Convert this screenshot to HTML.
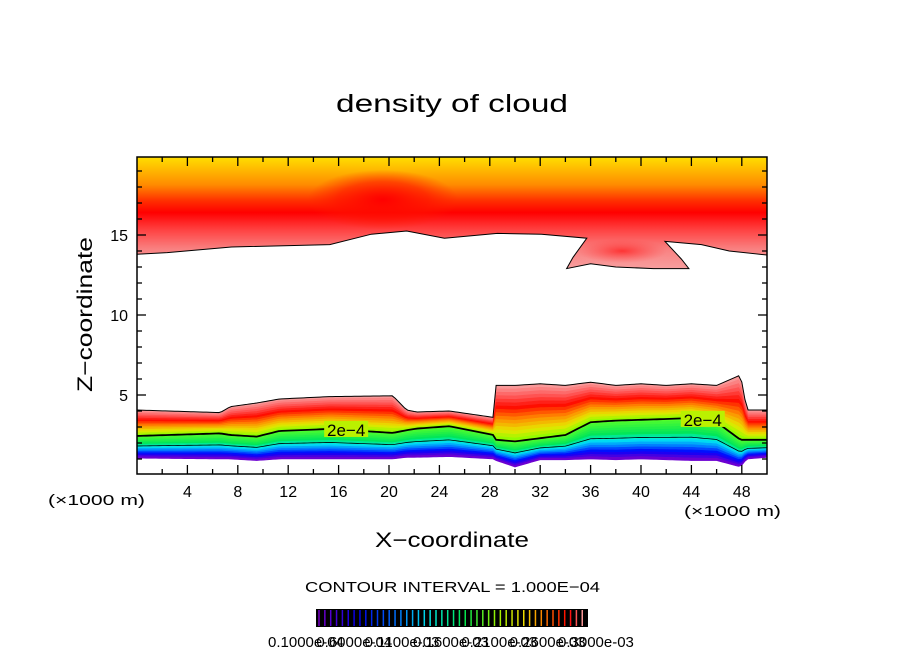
<!DOCTYPE html>
<html><head><meta charset="utf-8"><style>
body{margin:0;background:#fff;}
svg text{font-family:"Liberation Sans",sans-serif;fill:#000;}
</style></head><body>
<svg id="chart" width="904" height="654" viewBox="0 0 904 654" xmlns="http://www.w3.org/2000/svg">
<defs>
<linearGradient id="upGrad" gradientUnits="userSpaceOnUse" x1="0" x2="0" y1="155" y2="275">
<stop offset="0" stop-color="#ffe400"/>
<stop offset="0.08" stop-color="#ffc800"/>
<stop offset="0.25" stop-color="#ff8a00"/>
<stop offset="0.38" stop-color="#ff3000"/>
<stop offset="0.48" stop-color="#ff0000"/>
<stop offset="0.62" stop-color="#ff4040"/>
<stop offset="0.78" stop-color="#f98080"/>
<stop offset="1" stop-color="#f8a8a8"/>
</linearGradient>
<radialGradient id="peakGrad"><stop offset="0" stop-color="#ff0000" stop-opacity="1"/><stop offset="0.6" stop-color="#ff1000" stop-opacity="0.6"/><stop offset="1" stop-color="#ff2000" stop-opacity="0"/></radialGradient>
<radialGradient id="bulgeGrad"><stop offset="0" stop-color="#ff2020" stop-opacity="0.8"/><stop offset="1" stop-color="#ff4040" stop-opacity="0"/></radialGradient>
<clipPath id="upClip"><path id="upClipPath"/></clipPath>
<clipPath id="plotClip"><rect x="137" y="157" width="630" height="317"/></clipPath>
</defs>
<g id="plot" clip-path="url(#plotClip)"></g>
<rect x="137" y="157" width="630" height="317" fill="none" stroke="#000" stroke-width="1.5"/>
<g id="axes"></g>
<text x="336" y="112" font-size="25" textLength="232" lengthAdjust="spacingAndGlyphs">density of cloud</text>
<text x="375" y="547" font-size="21" textLength="154" lengthAdjust="spacingAndGlyphs">X−coordinate</text>
<text x="0" y="0" font-size="21" textLength="155" lengthAdjust="spacingAndGlyphs" transform="translate(92,392) rotate(-90)">Z−coordinate</text>
<text x="48" y="505" font-size="15" textLength="97" lengthAdjust="spacingAndGlyphs">(×1000 m)</text>
<text x="684" y="516" font-size="15" textLength="97" lengthAdjust="spacingAndGlyphs">(×1000 m)</text>
<text x="305" y="592" font-size="15" textLength="295" lengthAdjust="spacingAndGlyphs">CONTOUR INTERVAL = 1.000E−04</text>
<g id="cbar"></g>
</svg>
<script>
// ---- data ----
const xTicks=[4,8,12,16,20,24,28,32,36,40,44,48];
const yTicks=[5,10,15];
// upper cloud lower boundary, traced left->right [x, z]
const upperBoundary=[[0,13.8],[2.4,13.9],[7.5,14.25],[15.3,14.4],[18.6,15.05],[21.4,15.25],[24.4,14.8],[28.6,15.1],[32.1,15.05],[35.7,14.8],[34.6,13.6],[34.1,12.9],[36,13.2],[38,13],[41,12.9],[43.8,12.9],[43.2,13.5],[41.9,14.6],[44.8,14.4],[47,14],[50,13.75]];
// lower cloud
const lowX=[0,6.6,7.4,9.5,11.3,15.3,20.3,21.4,22.2,24.8,28.3,28.5,30,32,34,36,38,40,42,44,46,47.9,48.4,50];
const lowTop=[4.06,3.9,4.27,4.5,4.75,4.9,4.95,4.06,3.94,4.0,3.6,5.6,5.6,5.7,5.6,5.8,5.6,5.7,5.6,5.7,5.6,6.25,4.06,4.06];
const contour=[2.44,2.6,2.5,2.4,2.75,2.88,2.63,2.8,2.9,3.05,2.5,2.2,2.1,2.3,2.5,3.3,3.4,3.45,3.5,3.56,3.3,2.2,2.2,2.2];
const lowBottom=[1.05,1.0,1.0,0.9,1.0,1.0,1.0,1.1,1.1,1.15,1.0,0.9,0.5,0.95,0.95,1.0,0.95,1.0,0.95,0.9,0.9,0.5,1.0,1.1];
const cbarLabels=["0.1000e-04","0.6000e-04","0.1100e-03","0.1600e-03","0.2100e-03","0.2600e-03","0.3000e-03"];
// ---- helpers ----
const NS="http://www.w3.org/2000/svg";
const px=x=>137+x*12.6, py=z=>475-z*16;
function mk(tag,attrs,parent){const e=document.createElementNS(NS,tag);for(const k in attrs)e.setAttribute(k,attrs[k]);parent.appendChild(e);return e;}
function interp(xs,ys,x){for(let i=0;i<xs.length-1;i++){if(x<=xs[i+1]){const t=(x-xs[i])/(xs[i+1]-xs[i]);return ys[i]+t*(ys[i+1]-ys[i]);}}return ys[ys.length-1];}
function lerpC(stops,t){for(let i=0;i<stops.length-1;i++){if(t<=stops[i+1][0]){const a=stops[i],b=stops[i+1],u=(t-a[0])/(b[0]-a[0]);const c=[0,1,2].map(k=>Math.round(a[1][k]+u*(b[1][k]-a[1][k])));return `rgb(${c})`;}}const l=stops[stops.length-1][1];return `rgb(${l})`;}
const plot=document.getElementById('plot');
// upper layer
let d=`M${px(0)},${py(20.5)} L${px(0)},${py(upperBoundary[0][1])} `;
upperBoundary.forEach(p=>{d+=`L${px(p[0])},${py(p[1])} `;});
d+=`L${px(50)},${py(20.5)} Z`;
document.getElementById('upClipPath').setAttribute('d',d);
const up=mk('path',{d:d,fill:'url(#upGrad)'},plot);


const pk=mk('ellipse',{cx:px(19.5),cy:py(17.2),rx:75,ry:30,fill:'url(#peakGrad)','clip-path':'url(#upClip)'},plot);


const bg=mk('ellipse',{cx:px(38.5),cy:py(14),rx:45,ry:12,fill:'url(#bulgeGrad)','clip-path':'url(#upClip)'},plot);


let bd='';upperBoundary.forEach((p,i)=>{bd+=(i?'L':'M')+px(p[0])+','+py(p[1])+' ';});
const ub=mk('path',{d:bd,fill:'none',stroke:'#000','stroke-width':1},plot);


// lower layer bands
const upperStops=[[0,[248,165,165]],[0.2,[255,90,90]],[0.4,[255,10,0]],[0.62,[255,140,0]],[0.82,[230,230,0]],[1,[130,255,0]]];
const lowerStops=[[0,[90,255,40]],[0.35,[0,230,90]],[0.5,[0,240,240]],[0.65,[0,130,255]],[0.8,[0,0,255]],[1,[128,0,200]]];
const xs=[];for(let x=0;x<=50.001;x+=0.25)xs.push(x);
function band(f0,f1,topA,botA,stops,name){
  const g=(x,f)=>{const t=interp(lowX,topA,x),b=interp(lowX,botA,x);return t+(b-t)*f;};
  let p='';xs.forEach((x,i)=>{p+=(i?'L':'M')+px(x)+','+py(g(x,f0))+' ';});
  for(let i=xs.length-1;i>=0;i--)p+='L'+px(xs[i])+','+py(g(xs[i],f1))+' ';
  const e=mk('path',{d:p+'Z',fill:lerpC(stops,(f0+f1)/2),stroke:lerpC(stops,(f0+f1)/2),'stroke-width':0.6},plot);
  
  
}
const NB=16;
for(let i=0;i<NB;i++)band(i/NB,(i+1)/NB,lowTop,contour,upperStops,'lower-band-upper');
for(let i=0;i<NB;i++)band(i/NB,(i+1)/NB,contour,lowBottom,lowerStops,'lower-band-lower');
function line(arr,name,w){let p='';xs.forEach((x,i)=>{p+=(i?'L':'M')+px(x)+','+py(interp(lowX,arr,x))+' ';});const e=mk('path',{d:p,fill:'none',stroke:'#000','stroke-width':w},plot);}
line(lowTop,'lower-top-contour',1);
line(contour,'contour-2e-4',1.8);
const thin=lowX.map((x,i)=>contour[i]+(lowBottom[i]-contour[i])*0.45);
line(thin,'lower-thin-contour',0.8);
[[16.6],[44.9]].forEach(p=>{const z=interp(lowX,contour,p[0]);
 const r=mk('rect',{x:px(p[0])-22,y:py(z)-9,width:44,height:16,fill:lerpC(upperStops,0.9)},plot);
 const t=mk('text',{x:px(p[0]),y:py(z)+6,'font-size':17,'text-anchor':'middle'},plot);t.textContent='2e−4';});
// axes
const ax=document.getElementById('axes');
for(let x=2;x<50;x+=2){const L=(x%4===0)?9:5;
 mk('line',{x1:px(x),x2:px(x),y1:474,y2:474-L,stroke:'#000','stroke-width':1.3},ax);
 mk('line',{x1:px(x),x2:px(x),y1:157,y2:157+L,stroke:'#000','stroke-width':1.3},ax);}
for(let z=1;z<20;z++){const L=(z%5===0)?9:5;
 mk('line',{x1:137,x2:137+L,y1:py(z),y2:py(z),stroke:'#000','stroke-width':1.3},ax);
 mk('line',{x1:767,x2:767-L,y1:py(z),y2:py(z),stroke:'#000','stroke-width':1.3},ax);}
xTicks.forEach(v=>{const t=mk('text',{x:px(v),y:497,'font-size':16,'text-anchor':'middle'},ax);t.textContent=v;});
yTicks.forEach(v=>{const t=mk('text',{x:128,y:py(v)+6,'font-size':16,'text-anchor':'end'},ax);t.textContent=v;});
// colorbar
const cb=document.getElementById('cbar');
mk('rect',{x:316,y:609,width:272,height:18,fill:'#000'},cb);
const cbStops=[[0,[120,0,200]],[0.15,[0,0,230]],[0.3,[0,120,255]],[0.42,[0,230,230]],[0.55,[0,230,80]],[0.68,[160,240,0]],[0.78,[240,220,0]],[0.88,[255,90,0]],[0.95,[255,0,0]],[1,[250,150,150]]];
for(let i=0;i<46;i++){const x=319+i*5.85;
 const l=mk('line',{x1:x,x2:x,y1:610,y2:626,stroke:lerpC(cbStops,i/45),'stroke-width':1.5},cb);
 
 }
cbarLabels.forEach((s,i)=>{const t=mk('text',{x:268+i*(290/(cbarLabels.length-1)),y:647,'font-size':15},cb);t.textContent=s;});
</script>
</body></html>
